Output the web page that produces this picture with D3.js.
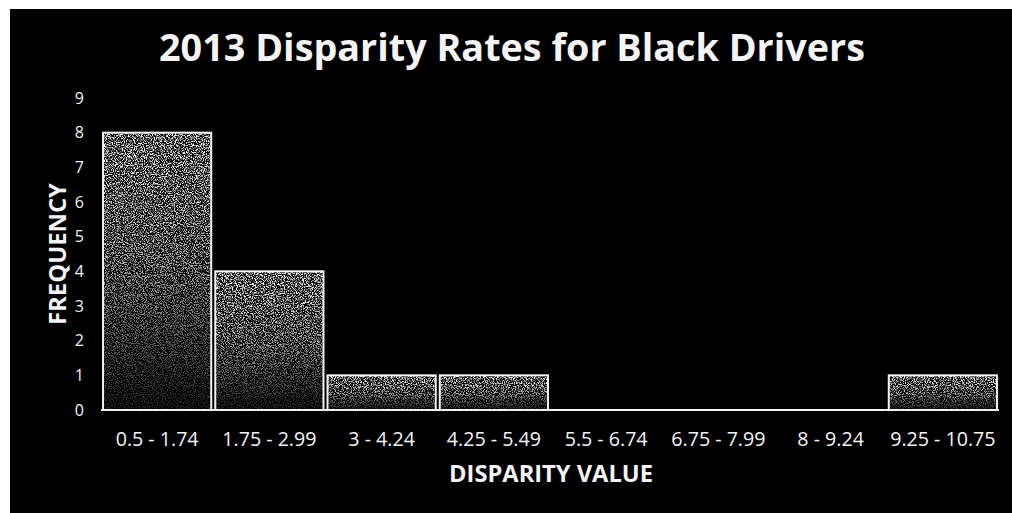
<!DOCTYPE html>
<html>
<head>
<meta charset="utf-8">
<script src="https://cdn.jsdelivr.net/npm/d3@7"></script>
<style>
  html, body { margin: 0; padding: 0; background: #fff; overflow: hidden; }
  svg { display: block; }
  text { font-family: "Open Sans", "Noto Sans", sans-serif; fill: #f4f4f4; }
</style>
</head>
<body>
<svg id="chart" width="1012" height="513"></svg>
<script>
// Disparity-value bins and how many agencies fell in each
const categories = ["0.5 - 1.74", "1.75 - 2.99", "3 - 4.24", "4.25 - 5.49",
                    "5.5 - 6.74", "6.75 - 7.99", "8 - 9.24", "9.25 - 10.75"];
const frequency = [8, 4, 1, 1, 0, 0, 0, 1];
const yTicks = [0, 1, 2, 3, 4, 5, 6, 7, 8, 9];

const titleText = "2013 Disparity Rates for Black Drivers";
const xTitle = "DISPARITY VALUE";
const yTitle = "FREQUENCY";

const svg = d3.select("#chart");
const W = 1012, H = 513;

// dark panel
svg.append("rect").attr("x", 10).attr("y", 9)
  .attr("width", W - 10).attr("height", H - 9).attr("fill", "#000");

const defs = svg.append("defs");
const grad = defs.append("linearGradient").attr("id", "fade")
  .attr("x1", 0).attr("y1", 0).attr("x2", 0).attr("y2", 1);
grad.append("stop").attr("offset", "0%").attr("stop-color", "#fff").attr("stop-opacity", 1);
grad.append("stop").attr("offset", "50%").attr("stop-color", "#fff").attr("stop-opacity", 0.7);
grad.append("stop").attr("offset", "100%").attr("stop-color", "#fff").attr("stop-opacity", 0.12);

// speckled fill: noise thresholded into white dots, kept inside the bar shape
const f = defs.append("filter").attr("id", "grain")
  .attr("x", 0).attr("y", 0).attr("width", 1).attr("height", 1);
f.append("feTurbulence").attr("type", "fractalNoise").attr("baseFrequency", "0.9")
  .attr("numOctaves", 2).attr("seed", 7).attr("result", "noise");
f.append("feColorMatrix").attr("in", "noise").attr("type", "matrix")
  .attr("values", "0 0 0 0 1  0 0 0 0 1  0 0 0 0 1  5 0 0 0 -2.2").attr("result", "specks");
f.append("feComposite").attr("in", "specks").attr("in2", "SourceGraphic").attr("operator", "in");

const x = d3.scaleBand().domain(categories).range([101, 999])
  .paddingInner(0.036).paddingOuter(0.018);
const y = d3.scaleLinear().domain([0, 9]).range([410, 98]);

// bars
const bars = svg.append("g");
categories.forEach((c, i) => {
  const v = frequency[i];
  if (v <= 0) return;
  bars.append("rect")
    .attr("x", x(c)).attr("y", y(v))
    .attr("width", x.bandwidth()).attr("height", y(0) - y(v))
    .attr("fill", "url(#fade)").attr("filter", "url(#grain)");
  bars.append("rect")
    .attr("x", x(c)).attr("y", y(v))
    .attr("width", x.bandwidth()).attr("height", y(0) - y(v))
    .attr("fill", "none").attr("stroke", "#f2f2f2").attr("stroke-width", 2);
});

// baseline
svg.append("line").attr("x1", 101).attr("x2", 999)
  .attr("y1", y(0)).attr("y2", y(0))
  .attr("stroke", "#f2f2f2").attr("stroke-width", 2);

// y axis labels
const yAxis = d3.axisLeft(y).tickValues(yTicks).tickSize(0).tickPadding(0);
const gy = svg.append("g").attr("transform", "translate(84,0)").call(yAxis);
gy.select(".domain").remove();
gy.selectAll("text").attr("fill", "#eee").style("font-size", "16px")
  .style("font-family", "'Open Sans', sans-serif");

// x axis labels
const xAxis = d3.axisBottom(x).tickSize(0).tickPadding(0);
const gx = svg.append("g").attr("transform", "translate(0,432)").call(xAxis);
gx.select(".domain").remove();
gx.selectAll("text").attr("fill", "#eee").attr("dy", "0.71em")
  .style("font-size", "16px").style("font-family", "'Open Sans', sans-serif");

// scale a text element's font so its rendered width equals target
function fitWidth(sel, target) {
  const base = parseFloat(sel.style("font-size"));
  const w = sel.node().getComputedTextLength();
  sel.style("font-size", (base * target / w) + "px");
}

// keep all category labels one size, sized on the first
{
  const first = gx.select(".tick text");
  fitWidth(first, 83);
  const size = first.style("font-size");
  gx.selectAll("text").style("font-size", size);
}

const title = svg.append("text").attr("x", 512).attr("y", 61)
  .attr("text-anchor", "middle").style("font-weight", 700).style("font-size", "32px")
  .text(titleText);
fitWidth(title, 706);

const xt = svg.append("text").attr("x", 551).attr("y", 482)
  .attr("text-anchor", "middle").style("font-weight", 700).style("font-size", "19px")
  .text(xTitle);
fitWidth(xt, 204);

const yt = svg.append("text")
  .attr("transform", "translate(66,254) rotate(-90)")
  .attr("text-anchor", "middle").style("font-weight", 700).style("font-size", "19px")
  .text(yTitle);
fitWidth(yt, 142);
</script>
</body>
</html>
